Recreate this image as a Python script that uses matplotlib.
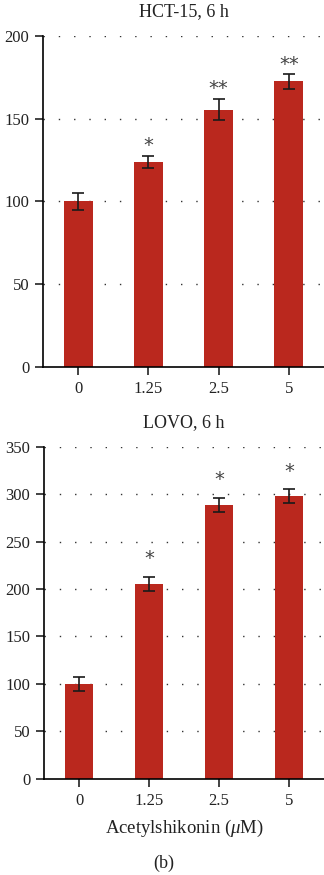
import matplotlib
matplotlib.use("Agg")
import matplotlib.pyplot as plt

categories = ["0", "1.25", "2.5", "5"]

hct_values = [100, 124, 155.5, 172.5]
hct_errors = [5, 3.7, 6.3, 4.3]
hct_stars = ["", "*", "**", "**"]

lovo_values = [100, 205.5, 288.5, 298]
lovo_errors = [7, 7.4, 7.5, 7]
lovo_stars = ["", "*", "*", "*"]

hct_ticks = [0, 50, 100, 150, 200]
lovo_ticks = [0, 50, 100, 150, 200, 250, 300, 350]

plt.rcParams['font.family'] = ['Liberation Serif', 'DejaVu Serif']
plt.rcParams['mathtext.fontset'] = 'custom'
plt.rcParams['mathtext.rm'] = 'Liberation Serif'
plt.rcParams['mathtext.it'] = 'Liberation Serif:italic'
BAR = "#BA281E"
TXT = "#222222"

fig = plt.figure(figsize=(3.24, 8.75), dpi=100)

def panel(rect, values, errors, stars, ticks, title, star_off, xlabel=None):
    ax = fig.add_axes(rect)
    x = list(range(len(categories)))
    ax.bar(x, values, width=0.41, color=BAR, zorder=2)
    ax.errorbar(x, values, yerr=errors, fmt="none", ecolor="#1a1a1a",
                elinewidth=1.2, capsize=4, capthick=1.2, zorder=3)
    for xi, v, e, s in zip(x, values, errors, stars):
        if s:
            ax.text(xi, v + e + star_off, s, ha="center", va="bottom",
                    fontsize=14, color="#444444", family="DejaVu Sans")
    ax.set_xlim(-0.5, 3.5)
    ax.set_ylim(0, ticks[-1])
    ax.set_yticks(ticks)
    ax.set_xticks(x)
    ax.set_xticklabels(categories)
    for t in ticks[1:]:
        ax.axhline(t, color="#333333", linestyle=(0, (1, 10)), linewidth=1.0, zorder=1)
    ax.spines["top"].set_visible(False)
    ax.spines["right"].set_visible(False)
    ax.spines["left"].set_linewidth(1.2)
    ax.spines["bottom"].set_linewidth(1.2)
    ax.tick_params(axis="both", direction="out", length=6, width=1.2,
                   labelsize=12, colors=TXT, pad=4)
    ax.set_title(title, fontsize=13, color=TXT, pad=14)
    if xlabel:
        ax.set_xlabel(xlabel, fontsize=13.5, color=TXT, labelpad=7)
    return ax

panel([0.133, 0.5806, 0.867, 0.3783], hct_values, hct_errors, hct_stars,
      hct_ticks, "HCT-15, 6 h", 0.5)
panel([0.136, 0.110, 0.864, 0.3795], lovo_values, lovo_errors, lovo_stars,
      lovo_ticks, "LOVO, 6 h", 9, xlabel=r"Acetylshikonin ($\mathit{\mu}$M)")

fig.text(0.505, 1 - 863 / 875, "(b)", ha="center", va="center", fontsize=13, color=TXT)

fig.savefig("out.png", dpi=100)
